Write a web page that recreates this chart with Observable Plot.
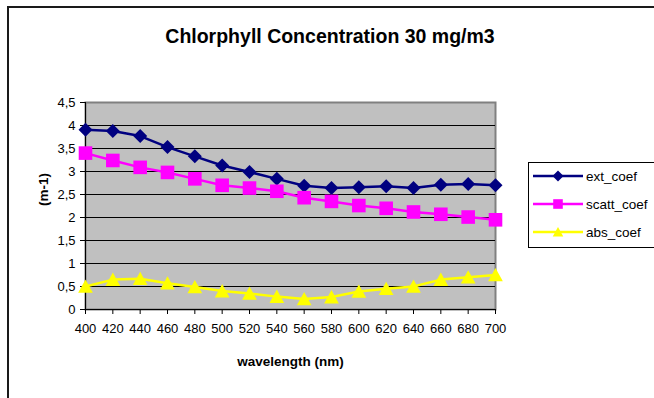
<!DOCTYPE html>
<html>
<head>
<meta charset="utf-8">
<script src="https://cdn.jsdelivr.net/npm/d3@7"></script>
<script src="https://cdn.jsdelivr.net/npm/@observablehq/plot@0.6"></script>
<style>
  html, body { margin: 0; padding: 0; background: #fff; overflow: hidden; }
  body { width: 654px; height: 398px; position: relative; font-family: "Liberation Sans", Arial, sans-serif; }
  #border { position: absolute; left: 7px; top: 6px; width: 800px; height: 600px; border-top: 2px solid #1a1a1a; border-left: 2px solid #1a1a1a; }
  #title { position: absolute; left: 0; width: 660px; top: 25px; text-align: center; font-weight: bold; font-size: 19.5px; color: #000; }
  #chart { position: absolute; left: 0; top: 0; }
  #legend { position: absolute; left: 528px; top: 162px; width: 130px; height: 86px; border: 1px solid #000; background: #fff; box-sizing: border-box; }
</style>
</head>
<body>
<div id="border"></div>
<div id="chart"></div>
<div id="title">Chlorphyll Concentration 30 mg/m3</div>
<div id="legend"></div>
<script>
const wavelengths = [400, 420, 440, 460, 480, 500, 520, 540, 560, 580, 600, 620, 640, 660, 680, 700];
const extCoef   = [3.91, 3.88, 3.77, 3.53, 3.33, 3.13, 2.99, 2.84, 2.69, 2.64, 2.66, 2.68, 2.64, 2.71, 2.73, 2.70];
const scattCoef = [3.40, 3.24, 3.09, 2.98, 2.84, 2.70, 2.64, 2.57, 2.43, 2.35, 2.26, 2.20, 2.12, 2.07, 2.01, 1.95];
const absCoef   = [0.50, 0.65, 0.67, 0.57, 0.49, 0.40, 0.35, 0.28, 0.23, 0.27, 0.39, 0.45, 0.50, 0.65, 0.70, 0.75];
const seriesNames = ["ext_coef", "scatt_coef", "abs_coef"];
const yTicks = [0, 0.5, 1, 1.5, 2, 2.5, 3, 3.5, 4, 4.5];
const xTicks = wavelengths;

const colors = {ext_coef: "#000080", scatt_coef: "#ff00ff", abs_coef: "#ffff00"};

const diamond = {draw(ctx, size) { const r = Math.sqrt(size / Math.PI); ctx.moveTo(0, -r); ctx.lineTo(r, 0); ctx.lineTo(0, r); ctx.lineTo(-r, 0); ctx.closePath(); }};
const square = {draw(ctx, size) { const r = Math.sqrt(size / Math.PI); ctx.rect(-r, -r, 2 * r, 2 * r); }};
const triangle = {draw(ctx, size) { const r = Math.sqrt(size / Math.PI); ctx.moveTo(0, -r); ctx.lineTo(r * 1.05, r * 0.9); ctx.lineTo(-r * 1.05, r * 0.9); ctx.closePath(); }};
const symbols = {ext_coef: diamond, scatt_coef: square, abs_coef: triangle};
const radii = {ext_coef: 7, scatt_coef: 6.8, abs_coef: 7};

const valuesBy = {ext_coef: extCoef, scatt_coef: scattCoef, abs_coef: absCoef};
const table = seriesNames.flatMap(s => wavelengths.map((w, i) => ({series: s, wl: w, v: valuesBy[s][i]})));

const fmt = d => String(d).replace(".", ",");

const marks = [
  Plot.frame({fill: "#c0c0c0", stroke: "#808080", strokeWidth: 2}),
  Plot.ruleY(yTicks.filter(d => d > 0 && d < 4.5), {stroke: "#000", strokeWidth: 1}),
  Plot.ruleX([400], {stroke: "#000", strokeWidth: 1}),
  Plot.ruleY([0], {stroke: "#000", strokeWidth: 1}),
  Plot.axisX({ticks: xTicks, tickSize: 5, tickPadding: 9, tickFormat: d => d, fontSize: 13, label: null, stroke: "#000"}),
  Plot.axisY({ticks: yTicks, tickSize: 5, tickPadding: 5, tickFormat: fmt, fontSize: 13, label: null}),
  Plot.text(["wavelength (nm)"], {frameAnchor: "bottom", dy: 56, fontWeight: "bold", fontSize: 13.5}),
  Plot.text(["(m-1)"], {frameAnchor: "left", dx: -42, rotate: -90, fontWeight: "bold", fontSize: 13.5})
];
for (const s of seriesNames) {
  const d = table.filter(r => r.series === s);
  marks.push(Plot.line(d, {x: "wl", y: "v", stroke: colors[s], strokeWidth: 2.5}));
}
for (const s of seriesNames) {
  const d = table.filter(r => r.series === s);
  marks.push(Plot.dot(d, {x: "wl", y: "v", symbol: () => symbols[s], r: radii[s], fill: colors[s], stroke: "none"}));
}

const chart = Plot.plot({
  width: 654,
  height: 398,
  marginLeft: 85,
  marginRight: 159,
  marginTop: 102,
  marginBottom: 89,
  style: {fontFamily: "'Liberation Sans', Arial, sans-serif", fontSize: "13px", color: "#000", background: "transparent"},
  x: {domain: [400, 700]},
  y: {domain: [0, 4.5]},
  symbol: {type: "identity"},
  marks
});
document.getElementById("chart").appendChild(chart);

// legend
const ns = "http://www.w3.org/2000/svg";
const lsvg = document.createElementNS(ns, "svg");
lsvg.setAttribute("width", 128); lsvg.setAttribute("height", 84);
lsvg.style.fontFamily = "'Liberation Sans', Arial, sans-serif";
const legendR = {ext_coef: 5.5, scatt_coef: 4.8, abs_coef: 5};
seriesNames.forEach((s, i) => {
  const y = 13 + i * 28;
  const ln = document.createElementNS(ns, "line");
  ln.setAttribute("x1", 4); ln.setAttribute("x2", 54); ln.setAttribute("y1", y); ln.setAttribute("y2", y);
  ln.setAttribute("stroke", colors[s]); ln.setAttribute("stroke-width", 2.5);
  lsvg.appendChild(ln);
  const p = document.createElementNS(ns, "path");
  const rr = legendR[s];
  p.setAttribute("d", d3.symbol(symbols[s], rr * rr * Math.PI)());
  p.setAttribute("transform", `translate(29,${y})`);
  p.setAttribute("fill", colors[s]);
  lsvg.appendChild(p);
  const t = document.createElementNS(ns, "text");
  t.setAttribute("x", 57); t.setAttribute("y", y); t.setAttribute("dy", "0.35em");
  t.setAttribute("font-size", 13.5); t.textContent = s;
  lsvg.appendChild(t);
});
document.getElementById("legend").appendChild(lsvg);
</script>
</body>
</html>
